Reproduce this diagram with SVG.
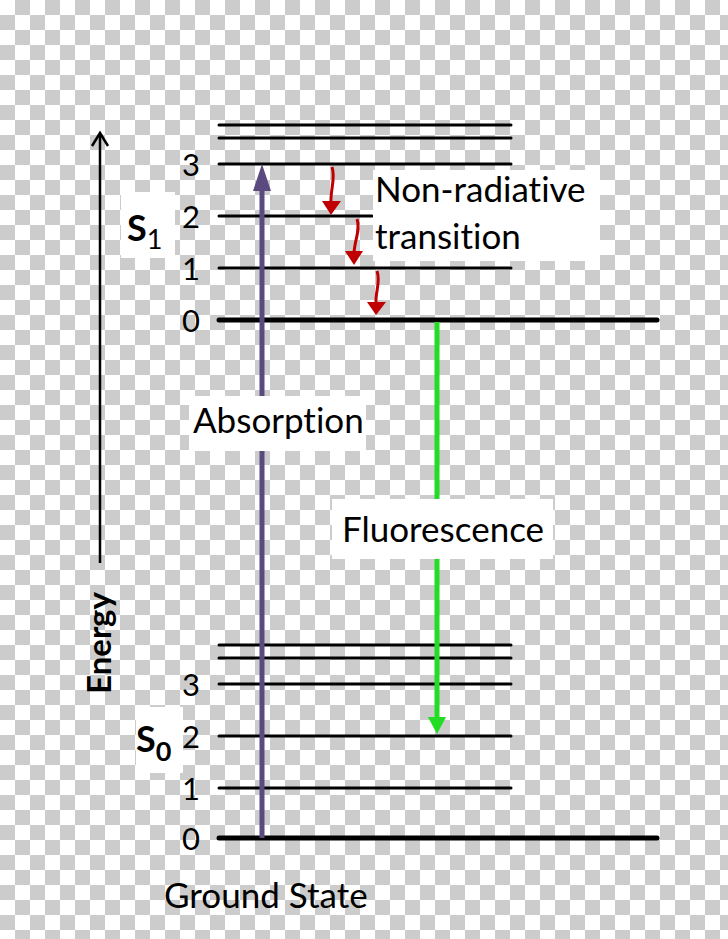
<svg xmlns="http://www.w3.org/2000/svg" width="728" height="939" viewBox="0 0 728 939">
<defs>
<pattern id="checker" x="0" y="0" width="30" height="30" patternUnits="userSpaceOnUse">
<rect x="0" y="0" width="30" height="30" fill="#ffffff"/>
<rect x="15" y="0" width="15" height="15" fill="#cccccc"/>
<rect x="0" y="15" width="15" height="15" fill="#cccccc"/>
</pattern>
<style>
text{font-variant-ligatures:none;font-feature-settings:"liga" 0,"clig" 0}
.lvl{stroke:#000;stroke-width:3;stroke-linecap:round}
.lvl0{stroke:#000;stroke-width:5;stroke-linecap:round}
.num{font-family:"Lato","Open Sans","Liberation Sans",sans-serif;font-size:31px;fill:#000;text-anchor:middle}
.lbl{font-family:"Lato","Open Sans","Liberation Sans",sans-serif;font-size:35px;fill:#000}
.st{font-family:"Lato","Open Sans","Liberation Sans",sans-serif;font-weight:bold;fill:#000}
.box{fill:#ffffff}
.nr{fill:none;stroke:#c00000;stroke-width:3}
.nrh{fill:#c00000}
</style>
</defs>
<rect width="728" height="939" fill="url(#checker)"/>

<g id="energy-axis">
<line x1="100" y1="563" x2="100" y2="134" stroke="#000" stroke-width="2.5"/>
<path d="M92,146 L100,133 L108,146" fill="none" stroke="#000" stroke-width="2.5"/>
<text class="st" font-size="33" transform="translate(111,643) rotate(-90)" text-anchor="middle">Energy</text>
</g>

<g id="s1-levels">
<line class="lvl" x1="219" y1="125" x2="511" y2="125"/>
<line class="lvl" x1="219" y1="138" x2="511" y2="138"/>
<line class="lvl" x1="219" y1="164" x2="511" y2="164"/>
<line class="lvl" x1="219" y1="216" x2="372" y2="216"/>
<line class="lvl" x1="219" y1="268" x2="511" y2="268"/>
<line class="lvl0" x1="219" y1="320" x2="657" y2="320"/>
<text class="num" x="191" y="176">3</text>
<text class="num" x="191" y="228">2</text>
<text class="num" x="191" y="280">1</text>
<text class="num" x="191" y="332">0</text>
</g>

<g id="s1-label">
<rect class="box" x="121" y="192" width="54" height="66"/>
<text class="st" x="127" y="241" font-size="36">S<tspan font-size="27" font-weight="normal" dy="8">1</tspan></text>
</g>

<g id="s0-levels">
<line class="lvl" x1="219" y1="645" x2="511" y2="645"/>
<line class="lvl" x1="219" y1="658" x2="511" y2="658"/>
<line class="lvl" x1="219" y1="684" x2="511" y2="684"/>
<line class="lvl" x1="219" y1="736" x2="511" y2="736"/>
<line class="lvl" x1="219" y1="788" x2="511" y2="788"/>
<line class="lvl0" x1="219" y1="838" x2="657" y2="838"/>
<text class="num" x="191" y="696">3</text>
<text class="num" x="191" y="748">2</text>
<text class="num" x="191" y="800">1</text>
<text class="num" x="191" y="850">0</text>
</g>

<g id="s0-label">
<rect class="box" x="136" y="707" width="47" height="66"/>
<text class="st" x="136" y="752" font-size="36">S<tspan font-size="27" dy="9">0</tspan></text>
</g>

<g id="connectors">
<g id="absorption-arrow">
<line x1="262" y1="838" x2="262" y2="186" stroke="#5b4a80" stroke-width="5"/>
<path d="M253,191 L262,164 L271,191 Z" fill="#5b4a80"/>
</g>
<g id="fluorescence-arrow">
<line x1="437" y1="322" x2="437" y2="720" stroke="#22dd22" stroke-width="5"/>
<path d="M428,717 L437,734 L446,717 Z" fill="#22dd22"/>
</g>
<g id="nonradiative-arrows">
<path class="nr" d="M332,167 C336,178 330,190 331,204"/>
<path class="nrh" d="M322,201 L341,201 L331,215 Z"/>
<path class="nr" d="M357,219 C361,230 354,241 354,254"/>
<path class="nrh" d="M345,251 L363,251 L354,265 Z"/>
<path class="nr" d="M377,271 C381,282 375,292 376,304"/>
<path class="nrh" d="M367,302 L386,302 L376,315 Z"/>
</g>
</g>

<g id="nonradiative-label">
<rect class="box" x="373" y="170" width="227" height="91"/>
<text class="lbl" x="375" y="202">Non-radiative</text>
<text class="lbl" x="375" y="249">transition</text>
</g>

<g id="absorption-label">
<rect class="box" x="189" y="396" width="177" height="55"/>
<text class="lbl" x="193" y="433">Absorption</text>
</g>

<g id="fluorescence-label">
<rect class="box" x="332" y="499" width="221" height="60"/>
<text class="lbl" x="342" y="542">Fluorescence</text>
</g>

<g id="ground-state-label">
<text class="lbl" x="164" y="908">Ground State</text>
</g>
</svg>
